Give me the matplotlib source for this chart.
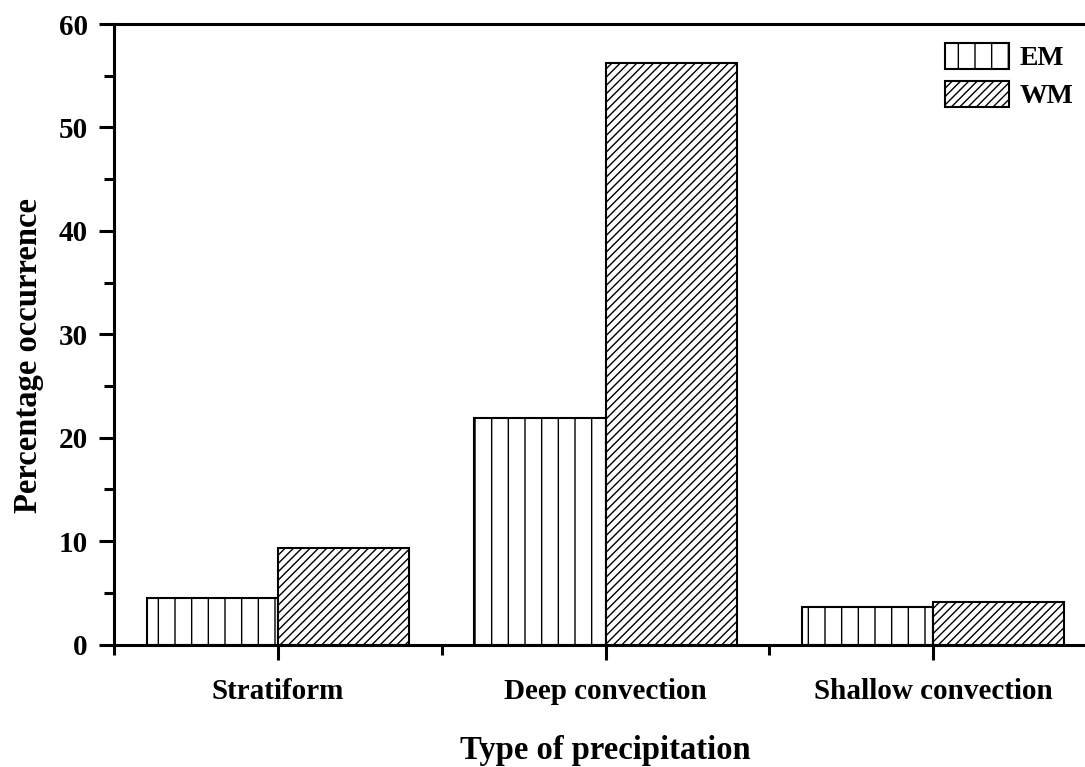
import numpy as np
import matplotlib
matplotlib.use("Agg")
from matplotlib import pyplot as plt
from matplotlib.ticker import MultipleLocator, FixedLocator


categories = ["Stratiform", "Deep convection", "Shallow convection"]
em_values = [4.5, 21.9, 3.65]
wm_values = [9.35, 56.2, 4.15]
series_names = ["EM", "WM"]

plt.rcParams["font.family"] = ["Liberation Serif", "DejaVu Serif"]
plt.rcParams["font.weight"] = "bold"
plt.rcParams["hatch.linewidth"] = 1.0


def main():
    fig = plt.figure(figsize=(10.85, 7.67), dpi=100)
    ax = fig.add_axes([0.1051, 0.1597, 0.906, 0.809])

    x = np.arange(1, len(categories) + 1)
    w = 0.4
    ax.bar(x - w / 2, em_values, w, facecolor="white", edgecolor="black",
           linewidth=1.5, hatch="|", label=series_names[0])
    ax.bar(x + w / 2, wm_values, w, facecolor="white", edgecolor="black",
           linewidth=1.5, hatch="////", label=series_names[1])

    ax.set_xlim(0.5, 3.5)
    ax.set_ylim(0, 60)

    ax.set_xticks(x)
    ax.set_xticklabels(categories, fontsize=21, fontweight="bold")
    ax.xaxis.set_minor_locator(FixedLocator([0.5, 1.5, 2.5, 3.5]))
    ax.yaxis.set_major_locator(MultipleLocator(10))
    ax.yaxis.set_minor_locator(MultipleLocator(5))
    for lab in ax.get_yticklabels():
        lab.set_fontsize(21)
        lab.set_fontweight("bold")

    ax.tick_params(axis="both", which="major", direction="out", length=11,
                   width=2.2, colors="black")
    ax.tick_params(axis="both", which="minor", direction="out", length=7,
                   width=2.2)
    ax.tick_params(axis="x", which="major", pad=13)
    ax.tick_params(axis="y", which="major", pad=8)

    for side in ["left", "bottom", "top", "right"]:
        ax.spines[side].set_linewidth(2.2)

    ax.set_xlabel("Type of precipitation", fontsize=23.5, fontweight="bold",
                  labelpad=22)
    ax.set_ylabel("Percentage occurrence", fontsize=23.5, fontweight="bold")
    ax.yaxis.set_label_coords(-0.071, 0.466)

    leg = ax.legend(loc="upper left", bbox_to_anchor=(945 / 1085, 1 - 43 / 767),
                    bbox_transform=fig.transFigure, frameon=False,
                    fontsize=20, handlelength=2.3, handleheight=1.05,
                    handletextpad=0.4, labelspacing=0.35, borderpad=0,
                    borderaxespad=0)
    for t in leg.get_texts():
        t.set_fontweight("bold")

    fig.savefig("out.png", dpi=100)


if __name__ == "__main__":
    main()
